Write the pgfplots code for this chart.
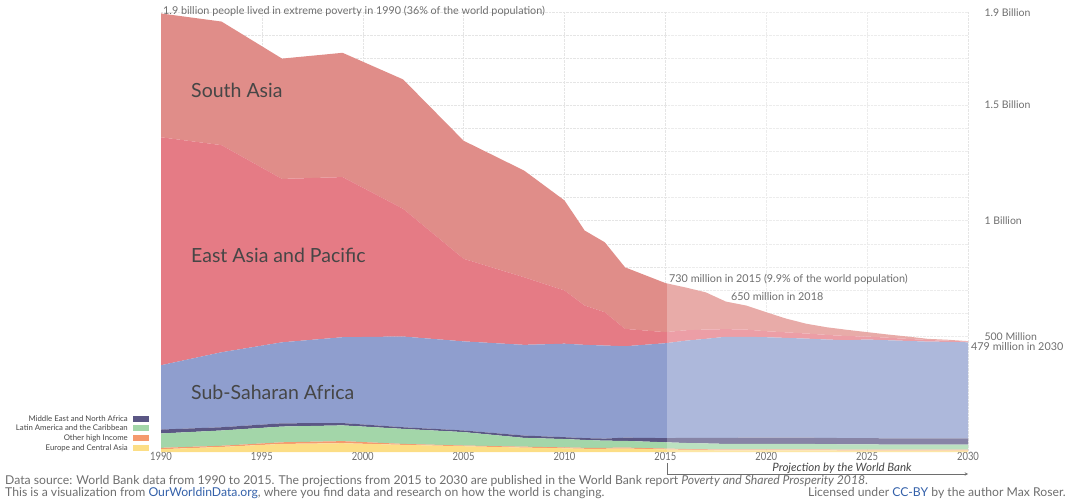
\documentclass[border=0pt]{standalone}
\usepackage{pgfplots}
\pgfplotsset{compat=1.18}
\usepackage{pgfplotstable}
\usepackage{fontspec}
\setmainfont{Lato}
\newfontfamily\cond{Lato}[FakeStretch=0.82]
\definecolor{cSA}{RGB}{224,141,137}
\definecolor{cEAP}{RGB}{229,123,133}
\definecolor{cSSA}{RGB}{143,158,206}
\definecolor{cMENA}{RGB}{91,87,133}
\definecolor{cLAC}{RGB}{163,214,169}
\definecolor{cOHI}{RGB}{245,154,110}
\definecolor{cECA}{RGB}{252,222,134}
\definecolor{txt}{RGB}{70,70,70}
\definecolor{lgray}{RGB}{110,110,110}
\definecolor{owid}{RGB}{51,96,169}
\pgfplotstableread{
year eca ohi lac mena ssa eap sa
1990 12 6 62 17 278 985 535
1993 22 5 66 14 324 895 534
1996 35 7 68 14 350 706 520
1999 38 9 68 10 371 692 537
2002 31 4 65 7 392 552 559
2005 25 3 58 7 385 357 510
2008 19 4 38 10 392 292 461
2010 16 4 36 8 404 230 389
2011 14 4 34 8 403 170 324
2012 14 4 31 9 402 144 302
2013 15 4 29 14 395 75 266
2015 11 4 27 18 410 48 212
2016 9 4 26 22 420 45 185
2017 8 4 25 24 428 40 161
2018 7 4 24 26 437 33 119
2019 7 4 24 27 436 31 104
2020 7 4 24 27 434 26 82
2021 7 4 24 27 431 24 59
2022 7 4 24 27 428 22 42
2023 7 4 23 27 425 20 33
2024 6 4 23 27 423 18 27
2025 6 4 23 27 426 13 19
2026 6 4 22 27 424 11 14
2027 6 4 22 27 421 9 10
2028 6 4 22 27 418 7 5
2029 6 4 22 27 417 5 4
2030 6 4 22 27 415 3 2
}\data
\begin{document}
\begin{tikzpicture}[x=1pt,y=1pt]
\useasboundingbox (0,0) rectangle (1073,499);
\begin{axis}[
  at={(161pt,47pt)}, anchor=south west,
  scale only axis, width=807pt, height=439.7pt,
  xmin=1990, xmax=2030, ymin=0, ymax=1900,
  axis line style={draw=none}, tick style={draw=none},
  xtick={1990,1995,...,2030},
  x tick label style={font=\cond\fontsize{11.5}{12}\selectfont, text=lgray, /pgf/number format/1000 sep={}, yshift=3pt},
  ytick={500,1000,1500,1900},
  yticklabels={500 Million,1 Billion,1.5 Billion,1.9 Billion},
  yticklabel pos=right,
  y tick label style={font=\fontsize{10.5}{12}\selectfont, text=lgray, anchor=west, xshift=13pt},
  minor ytick={100,200,...,1800},
  ymajorgrids, yminorgrids, xmajorgrids,
  grid style={densely dotted, black!10},
  minor grid style={densely dotted, black!10},
  stack plots=y, clip=false,
  /pgf/number format/assume math mode=true,
]
\addplot[fill=cECA, draw=none] table[x=year,y=eca]{\data} \closedcycle;
\addplot[fill=cOHI, draw=none] table[x=year,y=ohi]{\data} \closedcycle;
\addplot[fill=cLAC, draw=none] table[x=year,y=lac]{\data} \closedcycle;
\addplot[fill=cMENA, draw=none] table[x=year,y=mena]{\data} \closedcycle;
\addplot[fill=cSSA, draw=none] table[x=year,y=ssa]{\data} \closedcycle;
\addplot[fill=cEAP, draw=none] table[x=year,y=eap]{\data} \closedcycle;
\addplot[fill=cSA, draw=none] table[x=year,y=sa]{\data} \closedcycle;
\end{axis}
% projection overlay
\fill[white, fill opacity=0.27] (667,47) rectangle (968,487);
% area labels
\node[anchor=west, inner sep=0, text=txt, font=\fontsize{19.5}{22}\selectfont] at (191,409) {South Asia};
\node[anchor=west, inner sep=0, text=txt, font=\fontsize{19.5}{22}\selectfont] at (191,244) {East Asia and Pacific};
\node[anchor=west, inner sep=0, text=txt, font=\fontsize{19.5}{22}\selectfont] at (191,107) {Sub-Saharan Africa};
% annotations
\node[anchor=west, inner sep=0, text=lgray, font=\fontsize{10.8}{12}\selectfont] at (163,488) {1.9 billion people lived in extreme poverty in 1990 (36\% of the world population)};
\node[anchor=west, inner sep=0, text=lgray, font=\fontsize{10.8}{12}\selectfont] at (669,220) {730 million in 2015 (9.9\% of the world population)};
\node[anchor=west, inner sep=0, text=lgray, font=\fontsize{10.8}{12}\selectfont] at (731,202) {650 million in 2018};
\node[anchor=west, inner sep=0, text=lgray, font=\fontsize{10.8}{12}\selectfont] at (971,152.5) {479 million in 2030};
% legend
\foreach \y/\c/\t in {80/cMENA/Middle East and North Africa, 71/cLAC/Latin America and the Caribbean, 61/cOHI/Other high Income, 51/cECA/Europe and Central Asia}{
  \node[anchor=east, inner sep=0, text=txt, font=\fontsize{7.8}{9}\selectfont] at (128,\y) {\t};
  \fill[\c] (133,\y-3) rectangle (149,\y+3);
}
% projection bracket
\draw[lgray, line width=0.5pt, -stealth] (667,36) -- (667,25) -- (968,25);
\node[inner sep=0, text=txt, font=\itshape\fontsize{11.5}{13}\selectfont] at (842,30.5) {Projection by the World Bank};
% footer
\node[anchor=west, inner sep=0, text=lgray, font=\fontsize{12.2}{13}\selectfont] at (5,18) {Data source: World Bank data from 1990 to 2015. The projections from 2015 to 2030 are published in the World Bank report \textit{Poverty and Shared Prosperity 2018}.};
\node[anchor=west, inner sep=0, text=lgray, font=\fontsize{12.2}{13}\selectfont] at (5,6) {This is a visualization from \textcolor{owid}{OurWorldinData.org}, where you find data and research on how the world is changing.};
\node[anchor=east, inner sep=0, text=lgray, font=\fontsize{12.2}{13}\selectfont] at (1066,6) {Licensed under \textcolor{owid}{CC-BY} by the author Max Roser.};
\end{tikzpicture}
\end{document}
